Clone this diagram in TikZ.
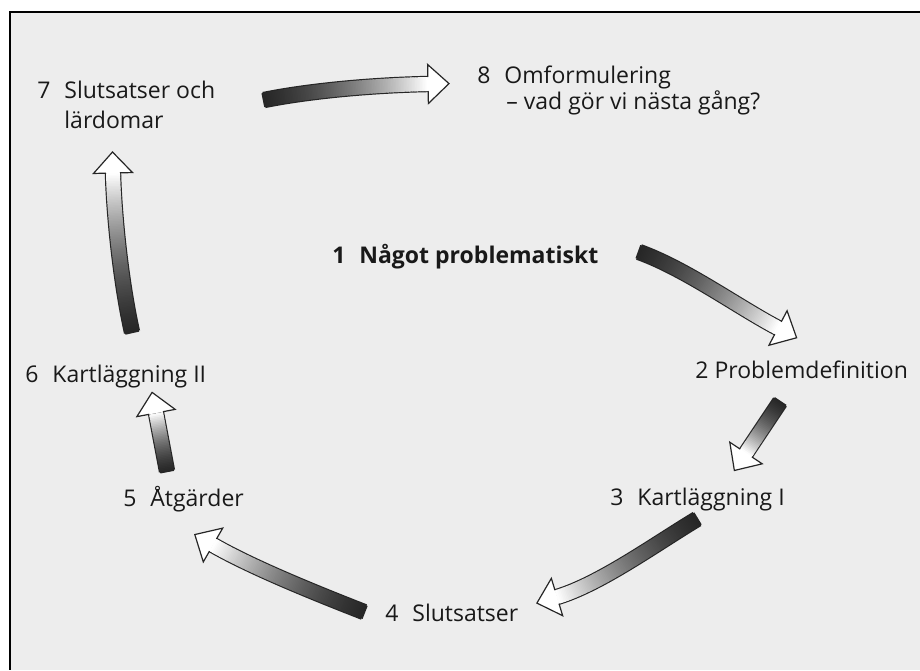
\documentclass[tikz,border=0pt]{standalone}
\usepackage{fontspec}
\setmainfont{Open Sans}
\usetikzlibrary{decorations.markings}
% one stripe of the shaded shaft, and the open head at the end
\newcommand\arrstripe{%
  \pgfmathsetmacro\arrpos{\pgfkeysvalueof{/pgf/decoration/mark info/distance from start}/\pgfdecoratedpathlength}%
  \pgfmathsetmacro\arrshade{max(0,85*(1-\arrpos)*(1+0.6*\arrpos))}%
  \fill[black!\arrshade] (-0.6pt,-3.5pt) rectangle (0.6pt,3.5pt);}
\newcommand\arrhead{%
  \filldraw[fill=white, draw=black!85, line width=0.6pt, line join=miter]
    (0pt,3.5pt) -- (0pt,9.75pt) -- (10.5pt,0pt) -- (0pt,-9.75pt) -- (0pt,-3.5pt);}
\newcommand\nr[1]{\makebox[13.5pt][l]{#1}}
\tikzset{
  cyclabel/.style={anchor=base west, inner sep=0pt, text=black!90,
    font=\fontsize{11.5}{15}\selectfont},
  cycbold/.style={cyclabel, font=\fontsize{11.5}{15}\selectfont\bfseries},
  cycarr/.style={line width=8.2pt, draw=black!85,
    postaction={decorate, decoration={markings,
      mark=between positions 0 and 1 step 0.8pt with {\arrstripe}}},
    postaction={decorate, decoration={markings,
      mark=at position 1 with {\arrhead}}}},
}

\begin{document}
\begin{tikzpicture}[x=0.5pt, y=-0.5pt]
  \useasboundingbox (0,0) rectangle (920,670);
  % paper and frame
  \fill[black!7] (10,12) rectangle (920,670);
  \draw[line width=1pt] (920,12) -- (10,12) -- (10,670);
  % Labels
  \node[cycbold] at (332,263) (Prob) {\nr{1}Något problematiskt};
  \node[cyclabel] at (695,378) (Def) {2 Problemdefinition};
  \node[cyclabel] at (610,505) (KartI) {\nr{3}Kartläggning I};
  \node[cyclabel] at (385,621) (Slut) {\nr{4}Slutsatser};
  \node[cyclabel] at (123,506) (Atg) {\nr{5}Åtgärder};
  \node[cyclabel] at (25,382) (KartII) {\nr{6}Kartläggning II};
  \node[cyclabel] at (37,98) (Lard)
    {\begin{tabular}[t]{@{}l@{}}\nr{7}Slutsatser och\\\hspace{13.5pt}lärdomar\end{tabular}};
  \node[cyclabel] at (477,83) (Omf)
    {\begin{tabular}[t]{@{}l@{}}\nr{8}Omformulering\\[-2pt]\hspace{14.5pt}– vad gör vi nästa gång?\end{tabular}};
  % Arrow ends
  \coordinate (t12) at (639,252); \coordinate (h12) at (778,328);
  \coordinate (t23) at (780,402); \coordinate (h23) at (746,453);
  \coordinate (t34) at (697,519); \coordinate (h34) at (557,597);
  \coordinate (t45) at (364,612); \coordinate (h45) at (213,545);
  \coordinate (t56) at (167,471); \coordinate (h56) at (156,413);
  \coordinate (t67) at (132,332); \coordinate (h67) at (113,173);
  \coordinate (t78) at (264,100); \coordinate (h78) at (428,84);
  % Arrows
  \draw[cycarr] (t12) .. controls (686,269) and (738,307) .. (h12);
  \draw[cycarr] (t23) -- (h23);
  \draw[cycarr] (t34) .. controls (654,545) and (600,584) .. (h34);
  \draw[cycarr] (t45) .. controls (318,594) and (253,568) .. (h45);
  \draw[cycarr] (t56) -- (h56);
  \draw[cycarr] (t67) .. controls (121,283) and (114,215) .. (h67);
  \draw[cycarr] (t78) .. controls (314,90) and (378,85) .. (h78);
\end{tikzpicture}
\end{document}
